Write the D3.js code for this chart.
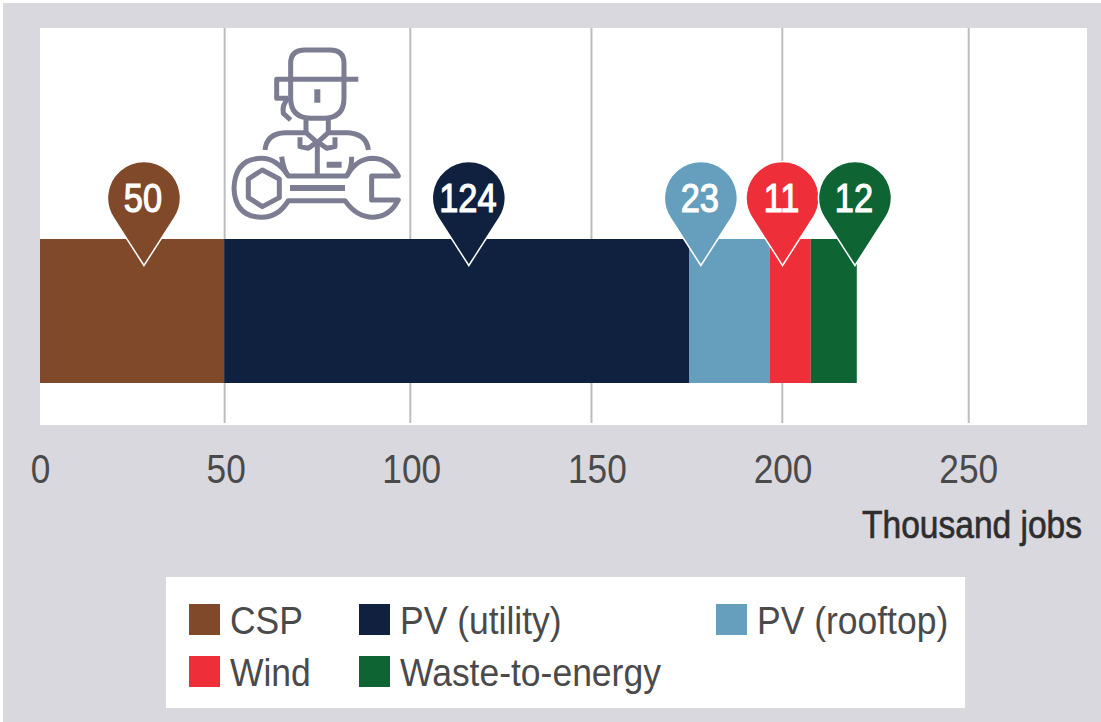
<!DOCTYPE html>
<html>
<head>
<meta charset="utf-8">
<script src="https://cdn.jsdelivr.net/npm/d3@7"></script>
<style>
  body { margin: 0; background: #fff; }
  text { font-family: "Liberation Sans", sans-serif; fill: #4a4a4a; }
</style>
</head>
<body>
<div id="chart"></div>
<script>
// Chart data
const categories = ["CSP", "PV (utility)", "PV (rooftop)", "Wind", "Waste-to-energy"];
const jobs = [50, 124, 23, 11, 12];
// The drawn bars don't quite add up to the printed labels, so their ends are read separately
const barEnds = [49.6, 174.8, 196.6, 207.6, 220];
const pinAt = [28, 115.5, 178, 200, 219.5]; // where each pin sits along the axis
const colors = ["#80492a", "#10213f", "#659fbd", "#ee2e38", "#0f6433"];
const tickValues = [0, 50, 100, 150, 200, 250];
const gridValues = [49.6, 99.6, 148.4, 199.8, 250];

const margin = { top: 28, right: 14, bottom: 297, left: 40 },
      width = 1101 - margin.left - margin.right,
      height = 722 - margin.top - margin.bottom;

const svg = d3.select("#chart").append("svg")
    .attr("width", 1101)
    .attr("height", 722)
    .style("display", "block");

// Grey panel and white plot area
svg.append("rect").attr("x", 3).attr("y", 3).attr("width", 1098).attr("height", 719).attr("fill", "#d9d8df");
svg.append("rect").attr("x", margin.left).attr("y", margin.top).attr("width", width).attr("height", height).attr("fill", "#fff");

const g = svg.append("g").attr("transform", `translate(${margin.left},${margin.top})`);

const x = d3.scaleLinear().domain([0, 282]).range([0, width]);

// Grid lines
const grid = g.append("g").call(d3.axisBottom(x).tickValues(gridValues).tickSize(height - 2).tickFormat(""));
grid.select(".domain").remove();
grid.selectAll("line").attr("stroke", "#bdbdc0").attr("stroke-width", 2);

// Tick labels, squeezed because there is no condensed font here
const axis = g.append("g")
    .attr("transform", `translate(0,${height})`)
    .call(d3.axisBottom(x).tickValues(tickValues).tickSize(0));
axis.select(".domain").remove();
axis.selectAll("text")
    .style("font-family", null)
    .attr("font-size", 41)
    .attr("y", 58)
    .attr("dy", 0)
    .attr("transform", "scale(0.86,1)");

g.append("text")
    .attr("transform", `translate(${1082 - margin.left},${538 - margin.top}) scale(0.86,1)`)
    .attr("text-anchor", "end")
    .attr("font-size", 39)
    .attr("stroke", "#2e2e2e")
    .attr("stroke-width", 0.7)
    .style("fill", "#2e2e2e")
    .text("Thousand jobs");

// Stacked bar
const stack = barEnds.map((end, i) => ({ i, x0: i ? barEnds[i - 1] : 0, x1: end }));
g.selectAll("rect.bar")
    .data(stack)
    .enter().append("rect")
    .attr("class", "bar")
    .attr("x", d => x(d.x0))
    .attr("width", d => x(d.x1) - x(d.x0))
    .attr("y", 211)
    .attr("height", 144)
    .attr("fill", d => colors[d.i]);

// Worker icon, drawn in its own little coordinate system
const icon = svg.append("g")
    .attr("transform", "translate(220,30) scale(0.3333)")
    .attr("fill", "none")
    .attr("stroke", "#7c7d92")
    .attr("stroke-width", 15)
    .attr("stroke-linejoin", "round");
[
    "M212 145V100Q212 60 255 60H330Q372 60 372 100V205Q372 265 310 265H275Q212 265 212 205V145",
    "M415 148H170V205H205",
    "M205 205Q185 225 190 250L212 270",
    "M258 270V308M325 270V308",
    "M135 360Q140 310 195 308H258L292 338L325 308H385Q440 312 445 360",
    "M240 322V350L265 355L292 335L320 355L345 350V322",
    "M292 345V432",
    "M185 380Q190 420 205 438H380Q395 420 395 380",
    "M205 438Q170 385 125 385Q45 385 42 475Q45 560 125 562Q175 562 205 512H375Q410 562 460 562Q510 560 535 510H455V438H535Q510 388 460 385Q410 385 380 438",
    "M127 420L178 447V503L127 530L85 503V447Z"
].forEach(d => icon.append("path").attr("d", d));
icon.append("path").attr("d", "M292 178V218M320 404H365M210 474H375").attr("stroke-width", 18);

// Map pins: a circle with two tangents meeting at the tip
const pinR = 36.5, pinH = 67.5;
function pinPath() {
    const a = Math.acos(pinR / pinH), p = d3.path();
    p.moveTo(0, pinH);
    p.lineTo(pinR * Math.sin(a), pinR * Math.cos(a));
    p.arc(0, 0, pinR, Math.PI / 2 - a, Math.PI / 2 + a, true);
    p.closePath();
    return p.toString();
}
const pins = g.selectAll("g.pin")
    .data(jobs.map((v, i) => ({ v, i })))
    .enter().append("g")
    .attr("class", "pin")
    .attr("transform", d => `translate(${x(pinAt[d.i])},${198 - margin.top})`);
pins.append("path")
    .attr("d", pinPath())
    .attr("fill", d => colors[d.i])
    .attr("stroke", "#fff")
    .attr("stroke-width", 1.5);
pins.append("text")
    .attr("text-anchor", "middle")
    .attr("transform", "translate(-1,14) scale(0.86,1)")
    .attr("font-size", 40)
    .attr("stroke", "#fff")
    .attr("stroke-width", 1.2)
    .style("fill", "#fff")
    .text(d => d.v);

// Legend
const legendCols = [189, 359, 716, 189, 359];
const legendRows = [604, 604, 604, 656, 656];
svg.append("rect").attr("x", 166).attr("y", 577).attr("width", 799).attr("height", 131).attr("fill", "#fff");
categories.forEach((c, i) => {
    svg.append("rect")
        .attr("x", legendCols[i])
        .attr("y", legendRows[i])
        .attr("width", 31)
        .attr("height", 31)
        .attr("fill", colors[i]);
    svg.append("text")
        .attr("transform", `translate(${legendCols[i] + 41},${legendRows[i] + 29.5}) scale(0.91,1)`)
        .attr("font-size", 39)
        .text(c);
});
</script>
</body>
</html>
